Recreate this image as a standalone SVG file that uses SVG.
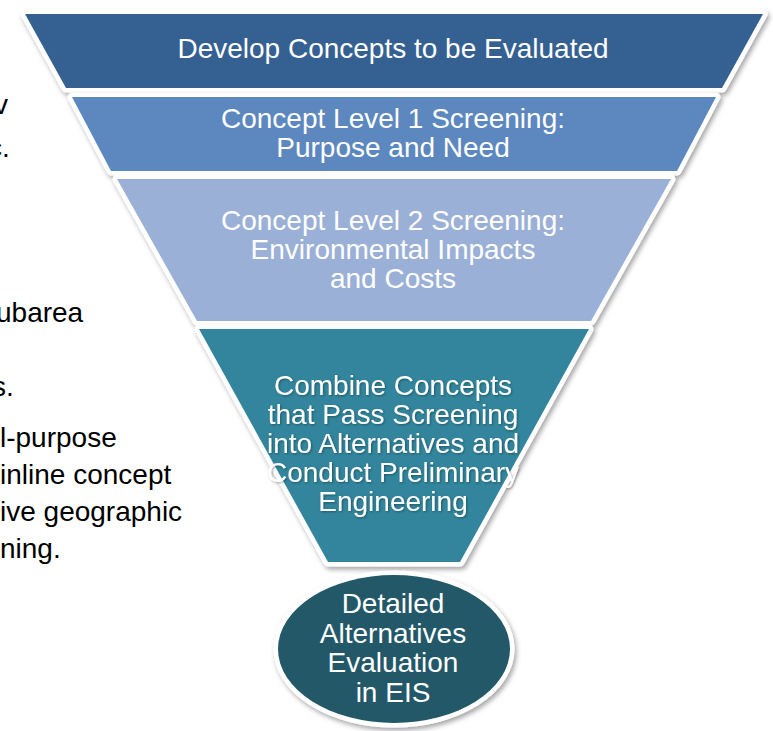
<svg xmlns="http://www.w3.org/2000/svg" width="773" height="731" viewBox="0 0 773 731">
  <defs>
    <filter id="shade" x="-10%" y="-10%" width="125%" height="130%">
      <feDropShadow dx="2" dy="3" stdDeviation="2.5" flood-color="#000" flood-opacity="0.35"/>
    </filter>
    <filter id="textShade" x="-5%" y="-20%" width="110%" height="150%">
      <feDropShadow dx="1" dy="1" stdDeviation="1" flood-color="#000" flood-opacity="0.35"/>
    </filter>
  </defs>
  <style>
    .stage { stroke: #ffffff; stroke-width: 9; stroke-linejoin: round; paint-order: stroke; filter: url(#shade); }
    .label { font-family: "Liberation Sans", Arial, sans-serif; font-size: 28px; fill: #ffffff; text-anchor: middle; }
    .side { font-family: "Liberation Sans", Arial, sans-serif; font-size: 28px; fill: #000000; }
  </style>

  <rect width="773" height="731" fill="#ffffff"/>

  <!-- body text of the slide, running off the left edge -->
  <g id="side-text">
    <text class="side" x="-6" y="114">v</text>
    <text class="side" x="-12" y="157">c.</text>
    <text class="side" x="-4" y="322">ubarea</text>
    <text class="side" x="-8" y="396">s.</text>
    <text class="side" x="0" y="447">l-purpose</text>
    <text class="side" x="0" y="484">inline concept</text>
    <text class="side" x="0" y="521">ive geographic</text>
    <text class="side" x="0" y="558">ning.</text>
  </g>

  <!-- funnel stages, widest first -->
  <g id="stage-develop">
    <path class="stage" d="M25,14 H763 L722,88 H66 Z" fill="#366092"/>
    <text class="label" x="393" y="58">Develop Concepts to be Evaluated</text>
  </g>

  <g id="stage-level1">
    <path class="stage" d="M72,97 H716 L677,171 H111 Z" fill="#5B87BF"/>
    <text class="label" x="393" y="128">Concept Level 1 Screening:</text>
    <text class="label" x="393" y="157">Purpose and Need</text>
  </g>

  <g id="stage-level2">
    <path class="stage" d="M117,179 H671 L591,321 H197 Z" fill="#9BB0D6"/>
    <text class="label" x="393" y="230">Concept Level 2 Screening:</text>
    <text class="label" x="393" y="259">Environmental Impacts</text>
    <text class="label" x="393" y="288">and Costs</text>
  </g>

  <g id="stage-combine">
    <path class="stage" d="M199,329 H589 L460,562 H328 Z" fill="#31859C"/>
    <g filter="url(#textShade)">
      <text class="label" x="393" y="395">Combine Concepts</text>
      <text class="label" x="393" y="424">that Pass Screening</text>
      <text class="label" x="393" y="453">into Alternatives and</text>
      <text class="label" x="393" y="482">Conduct Preliminary</text>
      <text class="label" x="393" y="511">Engineering</text>
    </g>
  </g>

  <!-- outcome of the funnel -->
  <g id="stage-eis">
    <ellipse class="stage" cx="394" cy="649" rx="116" ry="74" fill="#215967"/>
    <text class="label" x="393" y="613">Detailed</text>
    <text class="label" x="393" y="643">Alternatives</text>
    <text class="label" x="393" y="672">Evaluation</text>
    <text class="label" x="393" y="702">in EIS</text>
  </g>

  <g id="connectors"/>
</svg>
